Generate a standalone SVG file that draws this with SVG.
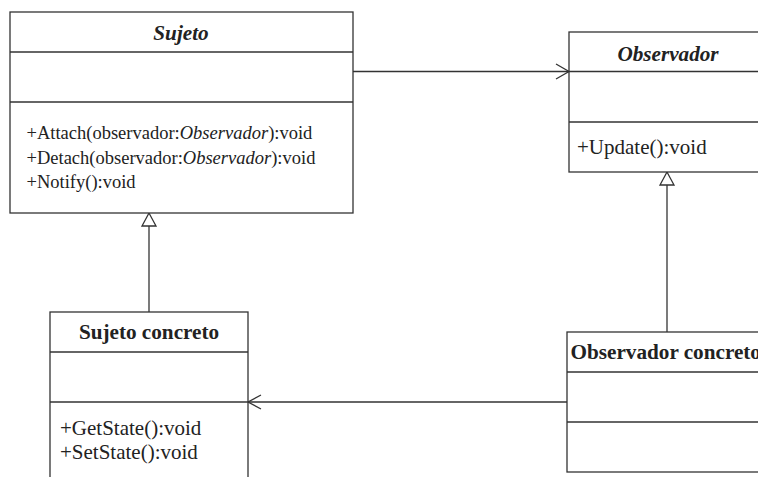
<svg xmlns="http://www.w3.org/2000/svg" width="758" height="477" viewBox="0 0 758 477">
<style>
.box{fill:#fff;stroke:#333;stroke-width:1.3}
.ln{stroke:#333;stroke-width:1.3;fill:none}
.hd{font-family:"Liberation Serif","Times New Roman",serif;font-weight:bold;font-size:21.2px;fill:#222}
.bd{font-family:"Liberation Serif","Times New Roman",serif;fill:#222}
.tri{fill:#fff;stroke:#333;stroke-width:1.3}
</style>
<rect width="758" height="477" fill="#fff"/>
<g id="connectors">
<line class="ln" x1="353" y1="71.5" x2="569" y2="71.5"/>
<polyline class="ln" points="556,64 569,71.5 556,79"/>
<line class="ln" x1="567" y1="402" x2="248" y2="402"/>
<polyline class="ln" points="261,395 248,402 261,409"/>
<line class="ln" x1="149" y1="226" x2="149" y2="312"/>
<polygon class="tri" points="149,213 142,226 156,226"/>
<line class="ln" x1="667" y1="185" x2="667" y2="332"/>
<polygon class="tri" points="667,172 660,185 674,185"/>
</g>
<g id="sujeto">
<rect class="box" x="10" y="12" width="343" height="201"/>
<line class="ln" x1="10" y1="52" x2="353" y2="52"/>
<line class="ln" x1="10" y1="102" x2="353" y2="102"/>
<text class="hd" x="181" y="40" text-anchor="middle" font-style="italic">Sujeto</text>
<text class="bd" x="26.5" y="139" font-size="18.5">+Attach(observador:<tspan font-style="italic">Observador</tspan>):void</text>
<text class="bd" x="26.5" y="163.5" font-size="18.5">+Detach(observador:<tspan font-style="italic">Observador</tspan>):void</text>
<text class="bd" x="26.5" y="188" font-size="18.5">+Notify():void</text>
</g>
<g id="observador">
<rect class="box" x="569" y="32" width="200" height="140"/>
<line class="ln" x1="569" y1="71.5" x2="769" y2="71.5"/>
<line class="ln" x1="569" y1="122" x2="769" y2="122"/>
<text class="hd" x="668" y="61" text-anchor="middle" font-style="italic">Observador</text>
<text class="bd" x="577" y="154" font-size="21">+Update():void</text>
</g>
<g id="sujeto-concreto">
<rect class="box" x="50" y="312" width="198" height="180"/>
<line class="ln" x1="50" y1="352" x2="248" y2="352"/>
<line class="ln" x1="50" y1="402" x2="248" y2="402"/>
<text class="hd" x="149" y="339" text-anchor="middle">Sujeto concreto</text>
<text class="bd" x="60" y="434.5" font-size="21">+GetState():void</text>
<text class="bd" x="60" y="459" font-size="21">+SetState():void</text>
</g>
<g id="observador-concreto">
<rect class="box" x="567" y="332" width="202" height="140"/>
<line class="ln" x1="567" y1="372" x2="769" y2="372"/>
<line class="ln" x1="567" y1="422" x2="769" y2="422"/>
<text class="hd" x="570.5" y="359">Observador concreto</text>
</g>
</svg>
